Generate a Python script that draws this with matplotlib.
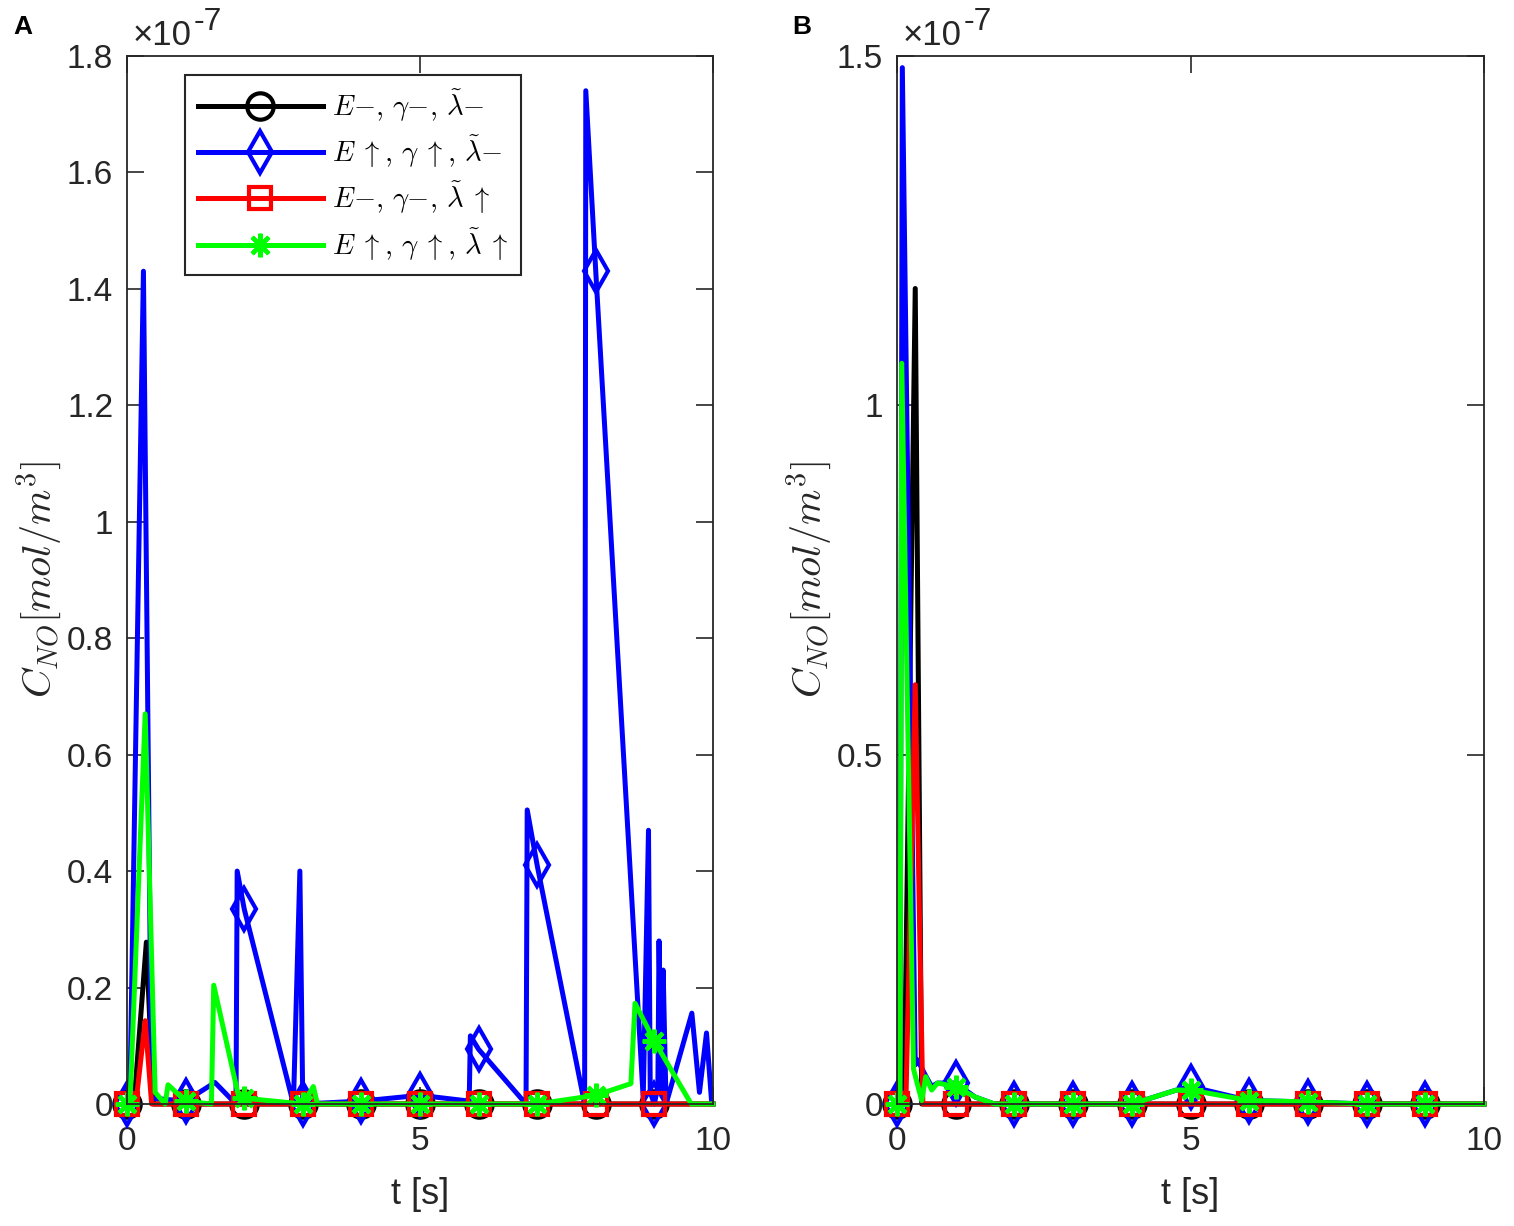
import matplotlib
matplotlib.use('Agg')
import matplotlib.pyplot as plt

plt.rcParams['font.family'] = ['Liberation Sans', 'DejaVu Sans']
plt.rcParams['mathtext.fontset'] = 'cm'

# values in units of 1e-7 mol/m^3
labels = [r'$E{-},\,\gamma{-},\,\tilde{\lambda}{-}$',
          r'$E\;\uparrow,\,\gamma\;\uparrow,\,\tilde{\lambda}{-}$',
          r'$E{-},\,\gamma{-},\,\tilde{\lambda}\;\uparrow$',
          r'$E\;\uparrow,\,\gamma\;\uparrow,\,\tilde{\lambda}\;\uparrow$']

# panel A
t_black_a = [0, 0.12, 0.33, 0.45, 1, 2, 3, 4, 5, 6, 7, 8, 9, 10]
c_black_a = [0, 0, 0.278, 0, 0, 0, 0, 0, 0, 0, 0, 0, 0, 0]
t_blue_a = [0, 0.05, 0.28, 0.42, 1, 1.5, 1.86, 1.88, 2, 2.84, 2.95, 3, 4, 5,
            5.84, 5.86, 6, 6.81, 6.83, 7, 7.81, 7.83, 8, 8.81, 8.9, 8.93, 9,
            9.06, 9.08, 9.12, 9.15, 9.2, 9.64, 9.77, 9.89, 9.98, 10]
c_blue_a = [0, 0.02, 1.43, 0.01, 0.005, 0.037, 0.0, 0.40, 0.335, 0.0, 0.40, 0.0,
            0.005, 0.015, 0.005, 0.117, 0.094, 0.0, 0.505, 0.41, 0.0, 1.74, 1.43,
            0.01, 0.47, 0.02, 0.0, 0.03, 0.28, 0.02, 0.23, 0.0, 0.156, 0.02,
            0.122, 0.0, 0.0]
t_red_a = [0, 0.15, 0.31, 0.42, 1, 2, 3, 4, 5, 6, 7, 8, 9, 10]
c_red_a = [0, 0, 0.143, 0, 0, 0, 0, 0, 0, 0, 0, 0, 0, 0]
t_green_a = [0, 0.05, 0.31, 0.48, 0.65, 0.70, 1, 1.44, 1.48, 1.9, 2, 3, 3.18,
             3.25, 4, 5, 6, 7, 8, 8.6, 8.67, 9, 9.63, 10]
c_green_a = [0, 0, 0.67, 0.02, 0.0, 0.033, 0.005, 0.0, 0.204, 0.015, 0.01, 0.0,
             0.03, 0.0, 0, 0, 0, 0, 0.015, 0.035, 0.173, 0.108, 0.0, 0.0]

# panel B
t_black_b = [0, 0.12, 0.31, 0.42, 1, 2, 3, 4, 5, 6, 7, 8, 9, 10]
c_black_b = [0, 0, 1.167, 0, 0, 0, 0, 0, 0, 0, 0, 0, 0, 0]
t_blue_b = [0, 0.05, 0.09, 0.31, 0.35, 0.49, 0.59, 0.69, 1, 1.33, 1.66, 2, 3, 4,
            4.76, 5, 6, 7, 8, 9, 10]
c_blue_b = [0, 0, 1.483, 0.056, 0.063, 0.04, 0.025, 0.03, 0.03, 0.01, 0, 0, 0, 0,
            0.02, 0.025, 0.005, 0.003, 0, 0, 0]
t_red_b = [0, 0.15, 0.31, 0.44, 1, 2, 3, 4, 5, 6, 7, 8, 9, 10]
c_red_b = [0, 0, 0.6, 0, 0, 0, 0, 0, 0, 0, 0, 0, 0, 0]
t_green_b = [0, 0.05, 0.08, 0.28, 0.42, 0.49, 0.59, 0.69, 1, 1.33, 1.66, 2, 3, 4,
             4.76, 5, 6, 7, 8, 9, 10]
c_green_b = [0, 0, 1.06, 0.05, 0.005, 0.039, 0.02, 0.03, 0.025, 0.01, 0, 0, 0, 0,
             0.02, 0.02, 0.005, 0.003, 0, 0, 0]

colors = ['#000000', '#0000ff', '#ff0000', '#00ff00']
markers = ['o', 'd', 's', (8, 2, 0)]
msizes = [19, 21, 16, 17]
axcol = '#262626'


def marker_idx(ts):
    return [i for i, t in enumerate(ts) if float(t).is_integer() and t < 10]


def draw_panel(ax, series, ymax, yticks, ylabels):
    for (ts, cs), col, mk, ms, lab in zip(series, colors, markers, msizes, labels):
        ax.plot(ts, cs, color=col, lw=3.6, marker=mk, ms=ms, mew=3,
                mfc='none', mec=col, markevery=marker_idx(ts),
                clip_on=False, label=lab)
    ax.set_xlim(0, 10)
    ax.set_ylim(0, ymax)
    ax.set_xticks([0, 5, 10])
    ax.set_yticks(yticks)
    ax.set_yticklabels(ylabels)
    ax.tick_params(direction='in', length=12, width=1.2, colors=axcol,
                   labelsize=24, top=True, right=True)
    ax.tick_params(axis='x', pad=16)
    ax.tick_params(axis='y', pad=10)
    for sp in ax.spines.values():
        sp.set_color(axcol)
        sp.set_linewidth(1.3)
    ax.set_xlabel('t [s]', fontsize=26, color=axcol, labelpad=14)
    ax.set_ylabel(r'$C_{NO}[mol/m^3]$', fontsize=29, color=axcol, labelpad=2)
    ax.text(0.01, 1.0105, '\u00d710', transform=ax.transAxes, fontsize=25,
            color=axcol, ha='left', va='baseline')
    ax.text(0.113, 1.0248, '-7', transform=ax.transAxes, fontsize=23,
            color=axcol, ha='left', va='baseline')


fig = plt.figure(figsize=(15.14, 12.26), dpi=100)
ax_a = fig.add_axes([0.0839, 0.0995, 0.387, 0.855])
ax_b = fig.add_axes([0.5925, 0.0995, 0.3877, 0.855])

draw_panel(ax_a, [(t_black_a, c_black_a), (t_blue_a, c_blue_a),
                  (t_red_a, c_red_a), (t_green_a, c_green_a)],
           1.8, [0, 0.2, 0.4, 0.6, 0.8, 1, 1.2, 1.4, 1.6, 1.8],
           ['0', '0.2', '0.4', '0.6', '0.8', '1', '1.2', '1.4', '1.6', '1.8'])
draw_panel(ax_b, [(t_black_b, c_black_b), (t_blue_b, c_blue_b),
                  (t_red_b, c_red_b), (t_green_b, c_green_b)],
           1.5, [0, 0.5, 1, 1.5], ['0', '0.5', '1', '1.5'])

leg = ax_a.legend(loc='upper left', bbox_to_anchor=(0.099, 0.982), fontsize=20.5,
                  handlelength=4.4, labelspacing=0.33, borderaxespad=0,
                  fancybox=False, framealpha=1, edgecolor=axcol,
                  borderpad=0.45, handletextpad=0.3)
leg.get_frame().set_linewidth(1.5)

fig.text(0.009, 0.978, 'A', fontsize=19, fontweight='bold', va='center')
fig.text(0.523, 0.978, 'B', fontsize=19, fontweight='bold', va='center')

fig.savefig('out.png', dpi=100)
